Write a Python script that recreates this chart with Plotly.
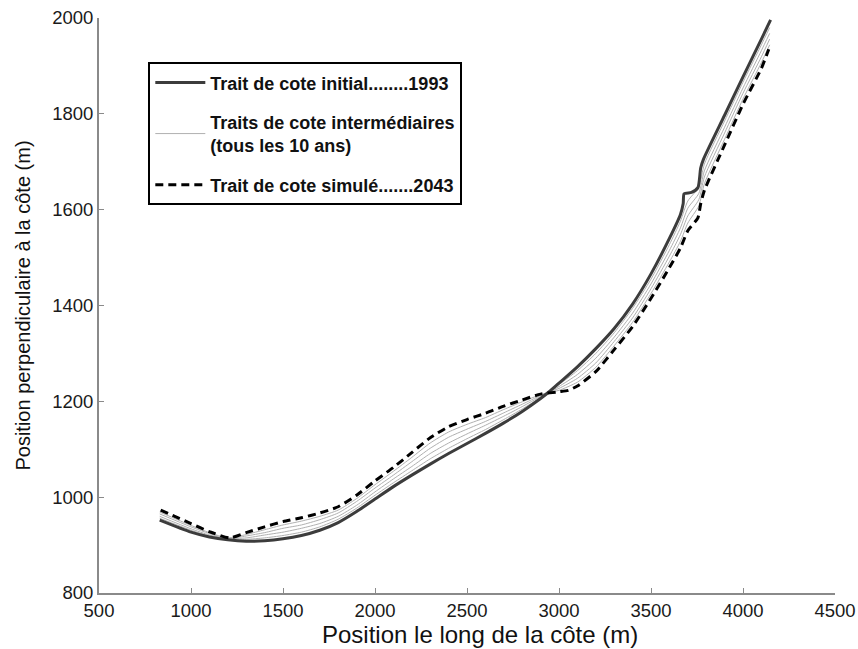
import plotly.graph_objects as go

# --- Initial shoreline (1993)
x_initial = [830, 1000, 1100, 1200, 1300, 1400, 1500, 1600, 1700, 1800, 1900, 2000, 2100, 2200,
             2300, 2400, 2500, 2600, 2700, 2800, 2900, 2950, 3000, 3100, 3200, 3300, 3400, 3500,
             3600, 3660, 3675, 3680, 3720, 3755, 3770, 3785, 3900, 4000, 4100, 4150]
y_initial = [952, 927, 917, 911, 908, 909, 913, 920, 931, 947, 970, 996, 1022, 1046,
             1069, 1091, 1112, 1133, 1155, 1179, 1206, 1221, 1238, 1272, 1310, 1352, 1403, 1466,
             1540, 1590, 1613, 1633, 1636, 1646, 1687, 1705, 1797, 1877, 1956, 1996]

# --- Simulated shoreline (2043)
x_simul = [835, 900, 1000, 1100, 1210, 1300, 1400, 1500, 1600, 1700, 1800, 1900, 2000, 2100,
           2200, 2300, 2400, 2500, 2600, 2700, 2800, 2900, 3000, 3050, 3100, 3200, 3300, 3400,
           3500, 3600, 3660, 3700, 3755, 3770, 3790, 3900, 4000, 4100, 4140]
y_simul = [973, 962, 945, 928, 915, 926, 938, 949, 957, 967, 980, 1004, 1034, 1062,
           1093, 1124, 1147, 1162, 1175, 1190, 1203, 1215, 1220, 1223, 1232, 1262, 1308, 1356,
           1415, 1479, 1520, 1556, 1583, 1612, 1640, 1735, 1820, 1895, 1935]

# --- Intermediate shorelines (every 10 years)
x_inter = [830, 1000, 1100, 1200, 1300, 1400, 1500, 1600, 1700, 1800, 1900, 2000, 2100, 2200,
           2300, 2400, 2500, 2600, 2700, 2800, 2900, 2950, 3000, 3100, 3200, 3300, 3400, 3500,
           3600, 3660, 3700, 3760, 3790, 3900, 4000, 4100, 4145]
y_2003 = [956, 931, 919, 913, 912, 915, 920, 927, 938, 954, 977, 1004, 1030, 1055,
          1080, 1102, 1122, 1141, 1162, 1184, 1208, 1221, 1235, 1264, 1300, 1343, 1394, 1455,
          1527, 1576, 1618, 1647, 1695, 1785, 1866, 1944, 1980]
y_2013 = [960, 934, 921, 914, 915, 921, 927, 935, 945, 960, 983, 1011, 1038, 1064,
          1091, 1113, 1132, 1150, 1169, 1189, 1210, 1220, 1231, 1256, 1290, 1334, 1384, 1445,
          1515, 1562, 1603, 1634, 1681, 1772, 1854, 1932, 1968]
y_2023 = [965, 938, 924, 914, 919, 926, 935, 942, 953, 967, 991, 1019, 1046, 1074,
          1102, 1125, 1142, 1158, 1176, 1194, 1212, 1220, 1227, 1248, 1280, 1325, 1374, 1435,
          1503, 1548, 1587, 1621, 1668, 1760, 1843, 1919, 1956]
y_2033 = [969, 941, 926, 915, 922, 932, 942, 950, 960, 973, 997, 1026, 1054, 1083,
          1113, 1136, 1152, 1166, 1183, 1199, 1214, 1219, 1223, 1240, 1271, 1316, 1365, 1425,
          1491, 1534, 1572, 1608, 1654, 1747, 1831, 1907, 1944]
inter_series = [y_2003, y_2013, y_2023, y_2033]

x_ticks = [500, 1000, 1500, 2000, 2500, 3000, 3500, 4000, 4500]
y_ticks = [800, 1000, 1200, 1400, 1600, 1800, 2000]

name_initial = "Trait de cote initial........1993"
name_inter = "Traits de cote intermédiaires<br>(tous les 10 ans)"
name_simul = "Trait de cote simulé.......2043"
x_title = "Position le long de la côte (m)"
y_title = "Position perpendiculaire à la côte (m)"

FONT = "Liberation Sans, Arial, Helvetica"

fig = go.Figure()

for i, ys in enumerate(inter_series):
    fig.add_trace(go.Scatter(
        x=x_inter, y=ys, mode="lines",
        line=dict(color="#b0b0b0", width=1, shape="spline", smoothing=0.6),
        name=name_inter, legendgroup="b", legendrank=2,
        showlegend=(i == 0), hoverinfo="skip"))

fig.add_trace(go.Scatter(
    x=x_initial, y=y_initial, mode="lines",
    line=dict(color="#3c3c3c", width=3, shape="spline", smoothing=0.6),
    name=name_initial, legendgroup="a", legendrank=1))

fig.add_trace(go.Scatter(
    x=x_simul, y=y_simul, mode="lines",
    line=dict(color="#000000", width=3, dash="8px,5px", shape="spline", smoothing=0.6),
    name=name_simul, legendgroup="c", legendrank=3))

axis_common = dict(
    showline=True, linecolor="#8a8a8a", linewidth=2,
    ticks="inside", ticklen=5, tickcolor="#8a8a8a", tickwidth=1,
    showgrid=False, zeroline=False, automargin=False,
    tickfont=dict(family=FONT, size=18.5, color="#1a1a1a"),
)

fig.update_layout(
    width=858, height=649,
    margin=dict(l=99, r=23, t=18, b=56, autoexpand=False),
    plot_bgcolor="white", paper_bgcolor="white",
    xaxis=dict(range=[500, 4500], tickvals=x_ticks, **axis_common),
    yaxis=dict(range=[800, 2000], tickvals=y_ticks,
               title=dict(text=y_title, standoff=16,
                          font=dict(family=FONT, size=20, color="#111111")),
               **axis_common),
    legend=dict(
        x=0.067, y=0.923, xanchor="left", yanchor="top",
        bordercolor="#000000", borderwidth=2, bgcolor="white",
        font=dict(family=FONT, size=18, color="#111111", weight="bold"),
        tracegroupgap=13, itemwidth=50,
        traceorder="grouped",
    ),
    annotations=[dict(
        text=x_title, xref="paper", yref="paper", x=0.5177, y=-0.073,
        xanchor="center", yanchor="middle", showarrow=False,
        font=dict(family=FONT, size=24, color="#111111"))],
)

fig.write_html("out.html")
